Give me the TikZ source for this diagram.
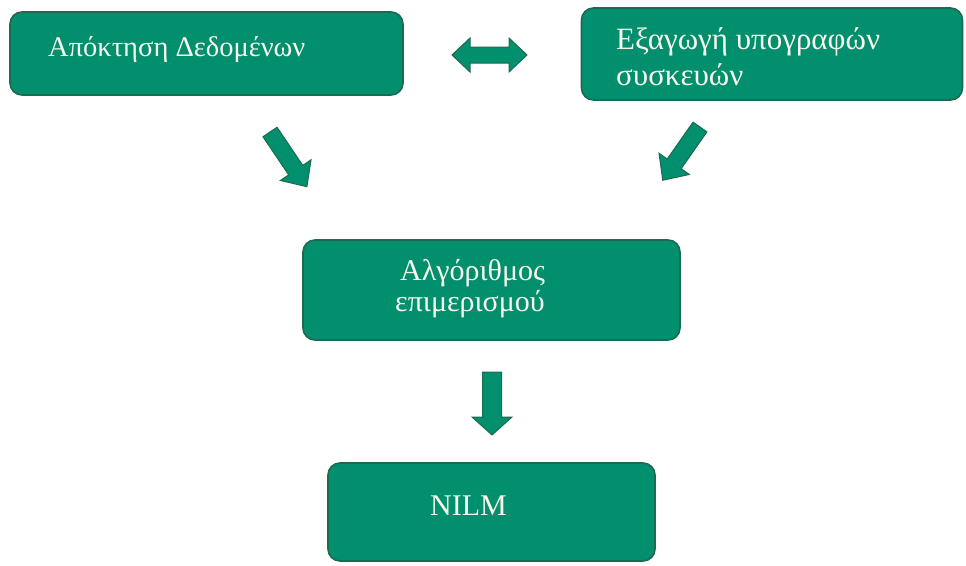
\documentclass[tikz,border=0pt]{standalone}
\usepackage{fontspec}
\setmainfont{Liberation Serif}
\definecolor{boxfill}{HTML}{028F6D}
\definecolor{boxedge}{HTML}{1B6B52}
\definecolor{txtcol}{HTML}{F7F7EC}
\tikzset{
  x=1pt, y=-1pt,
  box/.style={draw=boxedge, line width=1.6pt, fill=boxfill, rounded corners=12pt, inner sep=0pt},
  txt/.style={text=txtcol, inner sep=0pt, align=left, anchor=base west},
  blockarrow/.style={draw=boxedge, line width=1pt, fill=boxfill, line join=miter},
}
\begin{document}
\begin{tikzpicture}
\useasboundingbox (0,0) rectangle (966,565);
% boxes
\node[box, minimum width=393pt, minimum height=83pt] (b1) at (206.5,53.5) {};
\node[box, minimum width=381pt, minimum height=92pt] (b2) at (772,54) {};
\node[box, minimum width=377pt, minimum height=100pt] (b3) at (491.5,290) {};
\node[box, minimum width=327pt, minimum height=98pt] (b4) at (491.5,512) {};
% texts (base anchor = baseline of the last line)
\node[txt, font=\fontsize{28.5}{34}\selectfont] (t1) at (48,56) {Απόκτηση Δεδομένων};
\node[txt, font=\fontsize{31}{36}\selectfont] (t2) at (616,85) {Εξαγωγή υπογραφών\\συσκευών};
\node[txt, font=\fontsize{30}{31}\selectfont] (t3) at (395,311) {\hspace*{5pt}Αλγόριθμος\\επιμερισμού};
\node[txt, font=\fontsize{30}{36}\selectfont] (t4) at (430,515) {NILM};
% double arrow between b1 and b2
\coordinate (da) at (489.5,55);
\draw[blockarrow] ([xshift=-37.5pt]da) -- ++(18,-17) -- ++(0,9) -- ++(39,0) -- ++(0,-9)
  -- ++(18,17) -- ++(-18,17) -- ++(0,-9) -- ++(-39,0) -- ++(0,9) -- cycle;
% left diagonal arrow
\begin{scope}[shift={(270,132)}, rotate=-56]
  \draw[blockarrow] (0,-8.5) -- (46,-8.5) -- (46,-18.5) -- (66,0) -- (46,18.5) -- (46,8.5) -- (0,8.5) -- cycle;
\end{scope}
% right diagonal arrow
\begin{scope}[shift={(700,127)}, rotate=-125]
  \draw[blockarrow] (0,-8.5) -- (45,-8.5) -- (45,-18.5) -- (65,0) -- (45,18.5) -- (45,8.5) -- (0,8.5) -- cycle;
\end{scope}
% down arrow
\begin{scope}[shift={(492,372)}, rotate=-90]
  \draw[blockarrow] (0,-9.5) -- (45,-9.5) -- (45,-20) -- (63,0) -- (45,20) -- (45,9.5) -- (0,9.5) -- cycle;
\end{scope}
\end{tikzpicture}
\end{document}
